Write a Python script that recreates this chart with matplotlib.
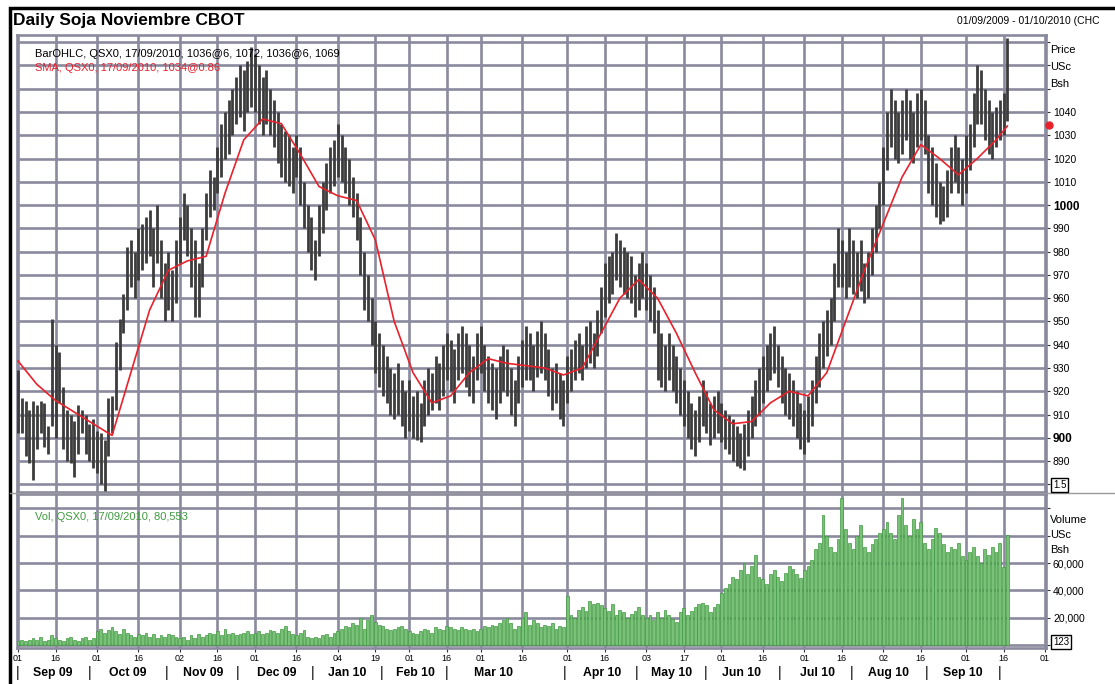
import matplotlib
matplotlib.use("Agg")
import matplotlib.pyplot as plt
import numpy as np
import pandas as pd
from matplotlib.patches import Rectangle
from matplotlib.lines import Line2D

plt.rcParams["font.family"] = ["Liberation Sans", "DejaVu Sans"]

W_PX, H_PX = 1115, 684

holidays = ["2009-09-07", "2009-11-26", "2009-12-25", "2010-01-01", "2010-01-18",
            "2010-02-15", "2010-04-02", "2010-05-31", "2010-07-05", "2010-09-06"]

# daily highs / lows (US cents per bushel), one list per month
high_sep09 = [929, 917, 916, 912, 916, 914, 916, 915, 905, 951, 940, 937, 922, 912, 910, 907, 914, 912, 910, 906, 908]
low_sep09 = [902, 902, 892, 889, 882, 895, 902, 896, 893, 905, 900, 915, 895, 890, 889, 883, 893, 902, 893, 890, 887]
high_oct09 = [903, 902, 899, 917, 918, 941, 951, 962, 982, 985, 980, 990, 992, 995, 998, 990, 1000, 985, 975, 980, 972, 985]
low_oct09 = [885, 880, 877, 892, 902, 912, 929, 945, 955, 965, 960, 968, 972, 975, 978, 965, 975, 960, 950, 955, 950, 958]
high_nov09 = [995, 1005, 1000, 990, 985, 975, 990, 1005, 1015, 1012, 1025, 1035, 1040, 1045, 1050, 1055, 1060, 1058, 1062, 1068]
low_nov09 = [975, 985, 978, 965, 952, 952, 965, 985, 995, 998, 1005, 1012, 1020, 1022, 1030, 1035, 1038, 1032, 1040, 1042]
high_dec09 = [1065, 1060, 1055, 1058, 1050, 1045, 1040, 1035, 1032, 1030, 1025, 1030, 1025, 1010, 1000, 995, 985, 1000, 1010, 1018, 1025, 1028]
low_dec09 = [1040, 1035, 1030, 1035, 1030, 1025, 1018, 1012, 1010, 1008, 1005, 1012, 1000, 990, 980, 972, 968, 978, 988, 998, 1005, 1008]
high_jan10 = [1035, 1030, 1025, 1020, 1012, 1005, 995, 980, 970, 960, 950, 945, 940, 935, 930, 928, 932, 925, 920]
low_jan10 = [1012, 1010, 1005, 1000, 995, 985, 970, 955, 950, 940, 928, 922, 918, 915, 910, 908, 910, 905, 900]
high_feb10 = [925, 918, 920, 915, 925, 930, 928, 935, 932, 940, 945, 942, 938, 945, 948, 945, 940, 935, 945]
low_feb10 = [903, 900, 899, 898, 905, 910, 912, 915, 912, 918, 925, 920, 915, 925, 928, 922, 918, 915, 925]
high_mar10 = [948, 940, 935, 932, 930, 935, 940, 938, 930, 925, 935, 942, 948, 945, 940, 946, 950, 945, 938, 930, 932, 928, 925]
low_mar10 = [928, 920, 915, 912, 908, 915, 920, 918, 910, 905, 915, 922, 925, 925, 920, 926, 928, 925, 918, 912, 915, 908, 905]
high_apr10 = [935, 938, 942, 945, 940, 948, 950, 945, 955, 965, 975, 978, 980, 988, 985, 982, 980, 978, 970, 975, 980]
low_apr10 = [915, 920, 925, 928, 925, 930, 932, 930, 935, 945, 952, 958, 962, 968, 965, 962, 960, 958, 952, 955, 960]
high_may10 = [975, 970, 965, 955, 945, 940, 945, 940, 935, 930, 925, 920, 915, 912, 918, 925, 920, 915, 918, 920]
low_may10 = [955, 950, 945, 925, 922, 920, 925, 920, 915, 910, 905, 900, 895, 892, 898, 905, 902, 897, 900, 902]
high_jun10 = [915, 912, 910, 908, 905, 902, 906, 912, 918, 925, 930, 935, 940, 945, 948, 940, 935, 930, 928, 925, 920, 915]
low_jun10 = [898, 895, 893, 890, 888, 887, 886, 892, 900, 905, 910, 915, 920, 925, 928, 922, 915, 910, 908, 905, 900, 895]
high_jul10 = [912, 918, 925, 935, 945, 950, 955, 960, 975, 990, 985, 980, 990, 985, 980, 985, 975, 980, 990, 1000, 1010]
low_jul10 = [893, 898, 905, 915, 922, 930, 935, 940, 950, 965, 965, 960, 965, 962, 960, 963, 958, 960, 970, 980, 990]
high_aug10 = [1025, 1040, 1050, 1045, 1040, 1045, 1050, 1045, 1040, 1048, 1050, 1045, 1030, 1025, 1018, 1010, 1008, 1015, 1025, 1030, 1025, 1020]
low_aug10 = [1000, 1015, 1025, 1020, 1018, 1022, 1028, 1020, 1018, 1025, 1028, 1022, 1005, 1000, 995, 992, 993, 995, 1005, 1010, 1005, 1000]
high_sep10 = [1030, 1035, 1048, 1060, 1058, 1050, 1045, 1040, 1042, 1045, 1048, 1072]
low_sep10 = [1005, 1015, 1025, 1035, 1035, 1028, 1022, 1020, 1025, 1028, 1030, 1036]

# daily volume, thousands of contracts
vol_sep09 = [3, 4, 3, 4, 5, 4, 6, 3, 4, 7, 5, 4, 3, 5, 6, 4, 3, 5, 6, 4, 5]
vol_oct09 = [10, 12, 9, 11, 13, 10, 8, 12, 9, 7, 6, 8, 7, 9, 6, 8, 5, 7, 6, 8, 7, 6]
vol_nov09 = [5, 6, 4, 7, 5, 8, 6, 7, 9, 8, 10, 7, 12, 8, 9, 7, 8, 9, 10, 8]
vol_dec09 = [9, 10, 8, 9, 11, 10, 9, 12, 14, 10, 8, 7, 9, 11, 6, 5, 6, 5, 7, 8, 6, 9]
vol_jan10 = [10, 12, 14, 13, 16, 15, 20, 12, 18, 22, 17, 15, 14, 12, 11, 12, 13, 14, 12]
vol_feb10 = [10, 9, 8, 10, 12, 11, 9, 13, 12, 11, 14, 13, 12, 11, 13, 12, 11, 12, 10]
vol_mar10 = [12, 14, 13, 15, 14, 16, 18, 20, 16, 12, 14, 20, 24, 15, 18, 16, 13, 15, 14, 16, 12, 14, 13]
vol_apr10 = [36, 22, 20, 26, 28, 25, 32, 30, 31, 29, 27, 25, 30, 22, 26, 24, 20, 23, 25, 28, 22]
vol_may10 = [20, 22, 18, 24, 20, 26, 22, 19, 17, 24, 27, 22, 25, 28, 30, 31, 29, 24, 28, 30]
vol_jun10 = [38, 42, 45, 50, 48, 55, 60, 52, 58, 66, 50, 48, 45, 52, 55, 50, 47, 53, 58, 56, 52, 49]
vol_jul10 = [55, 58, 62, 70, 75, 95, 80, 72, 68, 78, 108, 85, 75, 70, 80, 88, 72, 68, 74, 78, 82]
vol_aug10 = [85, 90, 82, 78, 95, 108, 88, 80, 92, 85, 90, 75, 70, 78, 86, 82, 74, 68, 72, 70, 75, 65]
vol_sep10 = [62, 68, 72, 65, 60, 70, 66, 72, 68, 75, 57, 80.553]

# simple moving average read every 5th bar (last one at the final bar)
sma_bar = [0, 5, 10, 15, 20, 25, 30, 35, 40, 45, 50, 55, 60, 65, 70, 75, 80, 85, 90, 95,
           100, 105, 110, 115, 120, 125, 130, 135, 140, 145, 150, 155, 160, 165, 170, 175,
           180, 185, 190, 195, 200, 205, 210, 215, 220, 225, 230, 235, 240, 245, 250, 255, 260, 263]
sma_val = [933, 923, 916, 911, 906, 901, 928, 955, 972, 976, 978, 1005, 1028, 1037, 1035, 1022,
           1008, 1004, 1002, 985, 950, 928, 915, 918, 928, 934, 932, 931, 930, 927, 930, 945,
           960, 968, 960, 945, 928, 912, 906, 907, 915, 920, 918, 928, 950, 972, 992, 1012,
           1026, 1020, 1013, 1020, 1028, 1034]

month_names = ["Sep 09", "Oct 09", "Nov 09", "Dec 09", "Jan 10", "Feb 10", "Mar 10",
               "Apr 10", "May 10", "Jun 10", "Jul 10", "Aug 10", "Sep 10"]
price_ticks = list(range(880, 1071, 10))
vol_ticks = [0, 20000, 40000, 60000, 80000, 100000]

highs = np.array(high_sep09 + high_oct09 + high_nov09 + high_dec09 + high_jan10 + high_feb10 +
                 high_mar10 + high_apr10 + high_may10 + high_jun10 + high_jul10 + high_aug10 + high_sep10)
lows = np.array(low_sep09 + low_oct09 + low_nov09 + low_dec09 + low_jan10 + low_feb10 +
                low_mar10 + low_apr10 + low_may10 + low_jun10 + low_jul10 + low_aug10 + low_sep10)
vols = np.array(vol_sep09 + vol_oct09 + vol_nov09 + vol_dec09 + vol_jan10 + vol_feb10 +
                vol_mar10 + vol_apr10 + vol_may10 + vol_jun10 + vol_jul10 + vol_aug10 + vol_sep10) * 1000

# trading calendar -> bar index
days = pd.bdate_range("2009-09-01", "2010-10-01")
days = days[~days.isin(pd.to_datetime(holidays))]
x = np.arange(len(highs))

tick_pos, tick_lab = [], []
for m in pd.period_range("2009-09", "2010-10", freq="M"):
    for d in ([1] if m == pd.Period("2010-10", "M") else [1, 16]):
        target = pd.Timestamp(m.year, m.month, d)
        i = int(np.searchsorted(days.values, np.datetime64(target)))
        tick_pos.append(i)
        tick_lab.append(days[i].strftime("%d"))


def fx(px):
    return px / W_PX


def fy(py):
    return 1 - py / H_PX


grid_c = "#8a8a9e"
red = "#e8212b"
green = "#3f9a3f"

fig = plt.figure(figsize=(W_PX / 100, H_PX / 100), dpi=100)

# outer frame and panel separator
fig.patches.append(Rectangle((fx(10), fy(690)), fx(1120) - fx(10), fy(8) - fy(690),
                             transform=fig.transFigure, fill=False, ec="black", lw=2.5))
fig.lines.append(Line2D([fx(10), fx(1115)], [fy(493), fy(493)], transform=fig.transFigure,
                        color="#9a9a9a", lw=1))

left, right = 17, 1046
ax = fig.add_axes([fx(left), fy(492), fx(right) - fx(left), fy(35) - fy(492)])
axv = fig.add_axes([fx(left), fy(648), fx(right) - fx(left), fy(494) - fy(648)], sharex=ax)

for a in (ax, axv):
    a.set_xlim(-0.27, 273.27)
    a.set_xticks(tick_pos)
    a.grid(True, color=grid_c, lw=1.9)
    a.set_axisbelow(True)
    for s in a.spines.values():
        s.set_color(grid_c)
        s.set_linewidth(1.9)
    a.yaxis.tick_right()
    a.tick_params(axis="y", length=3, width=0.8, color="#333333", pad=2, labelsize=7.5)

# price bars + moving average
ax.vlines(x, lows, highs, color="#3c3c3c", lw=2.0, zorder=3)
ax.plot(sma_bar, sma_val, color=red, lw=1.2, zorder=4)
ax.set_ylim(876.7, 1073.1)
ax.set_yticks(price_ticks)
ax.set_yticklabels(["" if (v < 890 or v > 1040) else str(v) for v in price_ticks])
for lab, v in zip(ax.get_yticklabels(), price_ticks):
    if v in (900, 1000):
        lab.set_fontsize(8.5)
        lab.set_fontweight("bold")
ax.tick_params(axis="x", length=0, labelbottom=False)
ax.plot([274.1], [1034.3], "o", color=red, ms=5, clip_on=False, zorder=5)

# volume
axv.bar(x, vols, width=0.75, color="#79c179", edgecolor=green, lw=0.5, zorder=3)
axv.set_ylim(-2200, 110600)
axv.set_yticks(vol_ticks)
axv.set_yticklabels(["", "20,000", "40,000", "60,000", "", ""])
axv.set_xticklabels(tick_lab)
axv.tick_params(axis="x", length=3, width=0.8, color="#333333", pad=1, labelsize=6.5)

# header texts
fig.text(fx(13), fy(20), "Daily Soja Noviembre CBOT", fontsize=12.5, fontweight="bold", va="center")
fig.text(fx(957), fy(21), "01/09/2009 - 01/10/2010 (CHC", fontsize=7.5, va="center")
fig.text(fx(35), fy(54), "BarOHLC, QSX0, 17/09/2010, 1036@6, 1072, 1036@6, 1069", fontsize=8, va="center")
fig.text(fx(35), fy(68), "SMA, QSX0, 17/09/2010, 1034@0.86", fontsize=8, va="center", color=red)
fig.text(fx(35), fy(517), "Vol, QSX0, 17/09/2010, 80,553", fontsize=8, va="center", color=green)

for txt, py in zip(["Price", "USc", "Bsh"], [50, 67, 84]):
    fig.text(fx(1050), fy(py), txt, fontsize=8, va="center")
for txt, py in zip(["Volume", "USc", "Bsh"], [520, 535, 550]):
    fig.text(fx(1050), fy(py), txt, fontsize=8, va="center")
box = dict(boxstyle="square,pad=0.2", fc="white", ec="black", lw=1)
fig.text(fx(1053), fy(485), "1.5", fontsize=7, va="center", bbox=box)
fig.text(fx(1053), fy(642), "123", fontsize=7, va="center", bbox=box)

# month row under the date ticks
sep_px = [18, 90, 167, 238, 313, 382, 447, 565, 637, 706, 780, 852, 927, 1000]
name_px = [53, 128, 203, 277, 347, 415, 493, 602, 672, 742, 817, 888, 963]
for px in sep_px:
    fig.text(fx(px), fy(673), "|", fontsize=10, ha="center", va="center")
for name, px in zip(month_names, name_px):
    fig.text(fx(px), fy(673), name, fontsize=8.8, fontweight="bold", ha="center", va="center")

fig.savefig("out.png", dpi=100)
